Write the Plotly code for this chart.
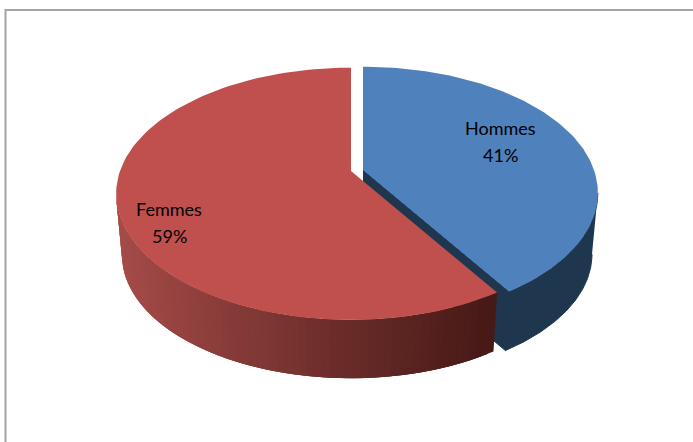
import math

import plotly.graph_objects as go

labels = ["Hommes", "Femmes"]
values = [41, 59]
top_colors = ["#4f81bd", "#c0504d"]
wall_colors = ["#1f364f", None]
label_pos = [(500, 128), (169, 209)]

# camera used to lay the pie over, in page pixels
WIDTH, HEIGHT = 693, 442
RADIUS_X, RADIUS_Y, TILT = 231, 122, 0.181
DEPTH, SHRINK = 62, 0.975
APEX = [(363, 170), (351, 171)]
LINE_GAP = 27


def project(apex, degrees, lower=False):
    u = math.sin(math.radians(degrees))
    v = math.cos(math.radians(degrees))
    w = 1 + TILT * v
    scale = SHRINK if lower else 1
    drop = DEPTH if lower else 0
    return (
        apex[0] + scale * RADIUS_X * u / w,
        apex[1] + drop - scale * RADIUS_Y * v / w,
    )


def arc(apex, start, end, lower=False, steps=120):
    return [
        project(apex, start + (end - start) * i / steps, lower)
        for i in range(steps + 1)
    ]


def polygon(points, color, edge=0):
    return go.Scatter(
        x=[p[0] for p in points],
        y=[p[1] for p in points],
        mode="lines",
        fill="toself",
        fillcolor=color,
        line=dict(color=color, width=edge),
        hoverinfo="skip",
        showlegend=False,
    )


def red_wall_color(x):
    # dark toward the right of the front wall
    t = max(0.0, min(1.0, (x - 118) / (495 - 118)))
    r = round(166 + (72 - 166) * t)
    g = round(76 + (26 - 76) * t)
    b = round(73 + (23 - 73) * t)
    return f"rgb({r},{g},{b})"


total = sum(values)
split = 360 * values[0] / total
# where the ellipse is widest, so the wall's side edge runs along the silhouette
side = math.degrees(math.acos(-TILT))

fig = go.Figure()

# blue slice: cut face and outer wall first, top after
blue_apex, red_apex = APEX
apex_low = (blue_apex[0], blue_apex[1] + DEPTH)
tip_top = project(blue_apex, split)
tip_low = project(blue_apex, split, lower=True)
fig.add_trace(polygon([blue_apex, tip_top, tip_low, apex_low], wall_colors[0], edge=1))
fig.add_trace(
    polygon(
        arc(blue_apex, side, split) + arc(blue_apex, split, side, lower=True),
        wall_colors[0],
        edge=1,
    )
)
fig.add_trace(polygon([blue_apex] + arc(blue_apex, 0, split), top_colors[0]))

# red slice: front wall in strips, left to right, each overlapping the next one
red_start, red_end = split, 360 - side
strips = 70
step = (red_end - red_start) / strips
for i in range(strips - 1, -1, -1):
    a0 = red_start + step * i
    a1 = min(red_end, a0 + step * 3)
    strip = arc(red_apex, a0, a1, steps=6) + arc(red_apex, a1, a0, lower=True, steps=6)
    mid = project(red_apex, a0 + step / 2)
    fig.add_trace(polygon(strip, red_wall_color(mid[0])))
fig.add_trace(polygon([red_apex] + arc(red_apex, split, 360), top_colors[1]))

for label, value, pos in zip(labels, values, label_pos):
    for offset, text in enumerate([label, f"{value}%"]):
        fig.add_annotation(
            x=pos[0],
            y=pos[1] + offset * LINE_GAP,
            text=text,
            showarrow=False,
            font=dict(family="Lato", size=18, color="#000000"),
        )

fig.add_shape(
    type="rect",
    x0=5.5,
    y0=10,
    x1=WIDTH + 20,
    y1=HEIGHT + 20,
    line=dict(color="#a3a3a3", width=2),
    layer="below",
)

fig.update_xaxes(range=[0, WIDTH], visible=False)
fig.update_yaxes(range=[HEIGHT, 0], visible=False)
fig.update_layout(
    width=WIDTH,
    height=HEIGHT,
    margin=dict(l=0, r=0, t=0, b=0),
    plot_bgcolor="#ffffff",
    paper_bgcolor="#ffffff",
    showlegend=False,
)

# the page's default body margin would push the figure off by 8px
fig.write_html(
    "out.html",
    config={"displayModeBar": False},
    post_script="document.body.style.margin = '0';",
)
